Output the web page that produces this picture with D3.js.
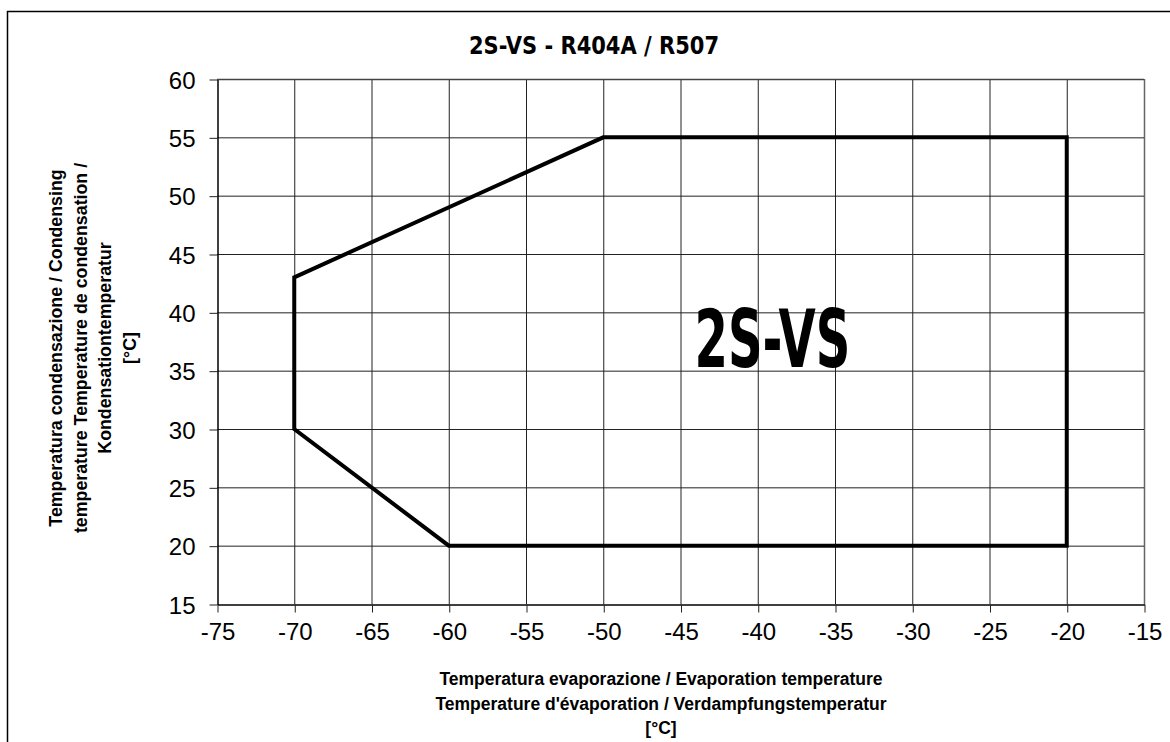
<!DOCTYPE html>
<html>
<head>
<meta charset="utf-8">
<script src="https://cdn.jsdelivr.net/npm/d3@7"></script>
<style>
  body { margin: 0; background: #fff; }
  svg { display: block; }
</style>
</head>
<body>
<div class="chart"></div>
<script>
/* envelope data: evaporation temp / condensing temp */
const evap = [-70, -50, -20, -20, -60, -70];
const cond = [43, 55, 55, 20, 20, 30];
const xTicks = d3.range(-75, -14, 5);
const yTicks = d3.range(15, 61, 5);
const title = "2S-VS - R404A / R507";
const bigLabel = "2S-VS";
const xTitle = ["Temperatura evaporazione / Evaporation temperature",
  "Temperature d'évaporation /  Verdampfungstemperatur", "[°C]"];
const yTitle = ["Temperatura condensazione / Condensing",
  "temperature  Temperature de condensation /", "Kondensationtemperatur", "[°C]"];

const width = 1170;
const height = 742;
const svg = d3.select(".chart").append("svg")
  .attr("width", width)
  .attr("height", height);

/* outer frame (left + top only) */
svg.append("path")
  .attr("d", `M7.5,${height} V11.5 H${width}`)
  .attr("fill", "none")
  .attr("stroke", "#000")
  .attr("stroke-width", 1.5);

/* scales */
const x = d3.scaleLinear().domain([-75, -15]).range([217, 1144]);
const y = d3.scaleLinear().domain([15, 60]).range([604, 79]);

/* grid */
svg.append("g")
  .selectAll("line")
  .data(xTicks.slice(1))
  .join("line")
  .attr("x1", d => x(d) + 0.5).attr("x2", d => x(d) + 0.5)
  .attr("y1", y(60)).attr("y2", y(15))
  .attr("stroke", d => d === -15 ? "#666" : "#222")
  .attr("stroke-width", d => d === -15 ? 1.5 : 1);

svg.append("g")
  .selectAll("line")
  .data(yTicks.slice(1))
  .join("line")
  .attr("x1", x(-75)).attr("x2", x(-15))
  .attr("y1", d => y(d) + 0.5).attr("y2", d => y(d) + 0.5)
  .attr("stroke", d => d === 60 ? "#444" : "#222")
  .attr("stroke-width", d => d === 60 ? 1.5 : 1);

/* axes */
const fontTicks = "'Liberation Sans', Arial, sans-serif";
const fmt = d => String(d); // plain hyphen minus like the original
const xAxis = svg.append("g")
  .attr("transform", `translate(0.5,${y(15) + 0.5})`)
  .call(d3.axisBottom(x).tickValues(xTicks).tickFormat(fmt).tickSize(8).tickSizeOuter(0).tickPadding(10));
const yAxis = svg.append("g")
  .attr("transform", `translate(${x(-75) + 0.5},0.5)`)
  .call(d3.axisLeft(y).tickValues(yTicks).tickFormat(fmt).tickSize(8).tickSizeOuter(0).tickPadding(14));

[xAxis, yAxis].forEach(a => {
  a.select(".domain").attr("stroke", "#000").attr("stroke-width", 1.5);
  a.selectAll(".tick line").attr("stroke", "#222");
  a.selectAll(".tick text")
    .attr("fill", "#000")
    .style("font-family", fontTicks)
    .style("font-size", "24px");
});
yAxis.selectAll(".tick text").attr("dy", "0.36em");

/* envelope polygon */
const line = d3.line()
  .x((d, i) => x(evap[i]))
  .y((d, i) => y(cond[i]))
  .curve(d3.curveLinearClosed);

svg.append("path")
  .datum(evap)
  .attr("d", line)
  .attr("fill", "none")
  .attr("stroke", "#000")
  .attr("stroke-width", 4)
  .attr("stroke-linejoin", "miter");

/* title (condensed bold) */
svg.append("text")
  .attr("x", 469).attr("y", 54)
  .attr("textLength", 250)
  .attr("lengthAdjust", "spacingAndGlyphs")
  .style("font-family", "'DejaVu Sans Condensed', 'DejaVu Sans', sans-serif")
  .style("font-weight", "bold")
  .style("font-size", "24px")
  .text(title);

/* big label inside the envelope */
svg.append("text")
  .attr("x", x(-39.05) - 78).attr("y", y(35.35))
  .attr("textLength", 156)
  .attr("lengthAdjust", "spacingAndGlyphs")
  .style("font-family", "'DejaVu Sans Condensed', 'DejaVu Sans', sans-serif")
  .style("font-weight", "bold")
  .style("font-size", "80px")
  .text(bigLabel);

/* axis titles */
const titleFont = "'Liberation Sans', Arial, sans-serif";
svg.append("g")
  .selectAll("text")
  .data(xTitle)
  .join("text")
  .attr("x", 661)
  .attr("y", (d, i) => 685 + i * 24.5)
  .attr("text-anchor", "middle")
  .style("font-family", titleFont)
  .style("font-weight", "bold")
  .style("font-size", "17.5px")
  .text(d => d);

svg.append("g")
  .attr("transform", "translate(0,348) rotate(-90)")
  .selectAll("text")
  .data(yTitle)
  .join("text")
  .attr("x", 0)
  .attr("y", (d, i) => 62 + i * 24.5)
  .attr("text-anchor", "middle")
  .style("font-family", titleFont)
  .style("font-weight", "bold")
  .style("font-size", "17.8px")
  .text(d => d);
</script>
</body>
</html>
